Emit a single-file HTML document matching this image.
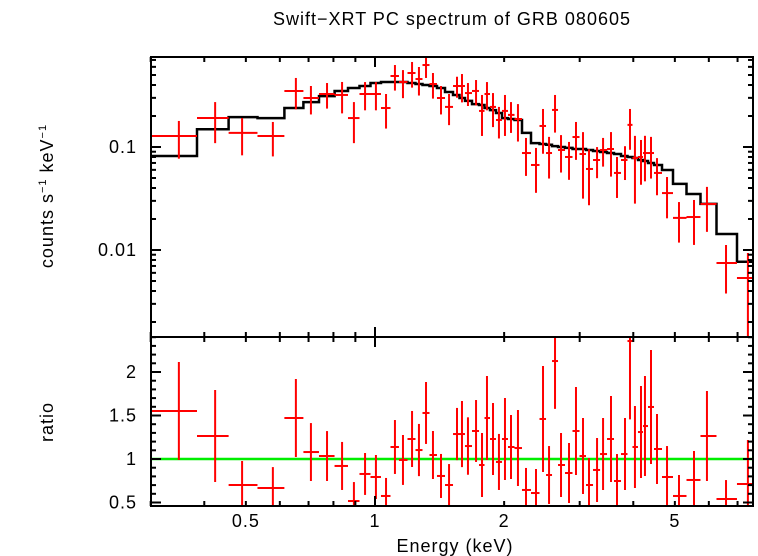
<!DOCTYPE html>
<html><head><meta charset="utf-8"><style>
html,body{margin:0;padding:0;background:#fff;}
svg{display:block;font-family:"Liberation Sans",sans-serif;}
text{letter-spacing:1px;}
</style></head><body>
<svg id="chart" width="758" height="556" viewBox="0 0 758 556" xmlns="http://www.w3.org/2000/svg">
<text x="452" y="25" font-size="18" text-anchor="middle">Swift−XRT PC spectrum of GRB 080605</text>
<text transform="translate(53,196) rotate(-90)" font-size="18" text-anchor="middle">counts s<tspan font-size="11" dy="-7">−1</tspan><tspan dy="7"> keV</tspan><tspan font-size="11" dy="-7">−1</tspan></text>
<text transform="translate(53,422) rotate(-90)" font-size="18" text-anchor="middle">ratio</text>
<text x="455" y="552" font-size="18" text-anchor="middle">Energy (keV)</text>
<g id="marks"></g>
<g id="axes"></g>
</svg>
<script>
const energies=[0.349,0.424,0.490,0.578,0.654,0.709,0.773,0.838,0.893,0.948,1.005,1.061,1.113,1.162,1.220,1.266,1.315,1.365,1.425,1.488,1.553,1.595,1.647,1.720,1.776,1.824,1.884,1.945,2.009,2.075,2.154,2.249,2.373,2.464,2.545,2.628,2.714,2.833,2.941,3.054,3.154,3.293,3.401,3.549,3.665,3.826,3.930,4.036,4.169,4.259,4.399,4.543,4.794,5.112,5.541,5.940,6.580,7.40];
const counts=[0.128,0.191,0.137,0.128,0.350,0.299,0.327,0.320,0.191,0.327,0.327,0.239,0.489,0.428,0.523,0.457,0.625,0.409,0.299,0.245,0.391,0.391,0.334,0.350,0.224,0.327,0.245,0.183,0.224,0.205,0.187,0.0874,0.0669,0.160,0.0874,0.229,0.0935,0.080,0.125,0.0855,0.0612,0.0748,0.0935,0.0956,0.056,0.0748,0.164,0.0782,0.080,0.0874,0.0874,0.056,0.0357,0.0205,0.0209,0.028,0.00748,0.00535];
const countErr=[0.051,0.082,0.054,0.047,0.118,0.092,0.091,0.108,0.082,0.10,0.10,0.088,0.136,0.13,0.146,0.141,0.157,0.114,0.092,0.082,0.09,0.12,0.084,0.097,0.096,0.10,0.089,0.062,0.096,0.068,0.074,0.035,0.031,0.074,0.038,0.091,0.037,0.032,0.05,0.054,0.034,0.025,0.029,0.044,0.024,0.027,0.07,0.05,0.037,0.041,0.038,0.022,0.0154,0.0087,0.0097,0.013,0.0037,0.004];
const model=[0.0818,0.149,0.195,0.191,0.239,0.273,0.312,0.350,0.374,0.391,0.418,0.428,0.428,0.428,0.418,0.409,0.400,0.391,0.374,0.342,0.320,0.299,0.280,0.261,0.256,0.239,0.228,0.214,0.191,0.187,0.183,0.137,0.109,0.107,0.105,0.102,0.100,0.098,0.0956,0.0956,0.0935,0.0914,0.0894,0.0874,0.0855,0.0818,0.080,0.0782,0.0748,0.0731,0.0699,0.0669,0.0598,0.0438,0.0350,0.028,0.0143,0.0077];
const ratio=[1.552,1.264,0.701,0.667,1.471,1.080,1.034,0.920,0.517,0.828,0.793,0.575,1.138,0.989,1.230,1.103,1.529,1.046,0.805,0.701,1.287,1.287,1.149,1.322,0.931,1.471,1.230,0.966,1.230,1.138,1.126,0.644,0.609,1.460,0.816,2.126,0.931,0.839,1.322,1.034,0.701,0.874,1.057,1.230,0.747,1.057,2.356,1.138,1.310,1.379,1.598,1.115,0.793,0.575,0.759,1.264,0.540,0.713];
const ratioErr=[0.563,0.529,0.276,0.24,0.448,0.333,0.287,0.276,0.218,0.241,0.253,0.207,0.31,0.287,0.322,0.3,0.356,0.276,0.253,0.241,0.3,0.38,0.33,0.356,0.368,0.483,0.414,0.322,0.471,0.368,0.437,0.253,0.276,0.609,0.333,0.55,0.368,0.345,0.506,0.437,0.31,0.368,0.414,0.494,0.31,0.414,0.9,0.471,0.529,0.575,0.655,0.402,0.356,0.241,0.333,0.517,0.218,0.506];
const xTicksLabeled=[0.5,1,2,5];
const topTicks=[0.1,0.01];
const ratioTicks=[0.5,1,1.5,2];

const NS='http://www.w3.org/2000/svg';
const L=151,R=753,T=57,MID=337,B=506;
const X=e=>375+429*Math.log10(e);
const YT=c=>147-103*Math.log10(c/0.1);
const YB=r=>459-87*(r-1);
const marks=document.getElementById('marks'),axes=document.getElementById('axes');
function el(tag,attrs,parent){const e=document.createElementNS(NS,tag);for(const k in attrs)e.setAttribute(k,attrs[k]);parent.appendChild(e);return e;}
const edges=[];
for(let i=0;i<=energies.length;i++){
  if(i===0)edges.push(0.3);
  else if(i===energies.length)edges.push(Math.min(7.6,energies[i-1]*energies[i-1]/Math.sqrt(energies[i-2]*energies[i-1])));
  else edges.push(Math.sqrt(energies[i-1]*energies[i]));
}
const gTop=el('g',{'clip-path':'url(#cpTop)'},marks);


const gBot=el('g',{'clip-path':'url(#cpBot)'},marks);


const defs=el('defs',{},marks);
const c1=el('clipPath',{id:'cpTop'},defs);el('rect',{x:L,y:T,width:R-L,height:MID-T},c1);
const c2=el('clipPath',{id:'cpBot'},defs);el('rect',{x:L,y:MID,width:R-L,height:B-MID},c2);
let d='';
for(let i=0;i<model.length;i++){
  const x0=X(edges[i]),x1=X(edges[i+1]),y=YT(model[i]);
  d+=(i===0?'M':'L')+x0.toFixed(1)+','+y.toFixed(1)+'L'+x1.toFixed(1)+','+y.toFixed(1);
}
const mp=el('path',{d:d,fill:'none',stroke:'#000','stroke-width':2.5},gTop);


const gl=el('line',{x1:L,x2:R,y1:YB(1),y2:YB(1),stroke:'#00ee00','stroke-width':2.5},gBot);


for(let i=0;i<energies.length;i++){
  const x0=X(edges[i]),x1=X(edges[i+1]),xc=X(energies[i]);
  const g=el('g',{stroke:'#ff0000','stroke-width':2},gTop);
  
  
  const y=YT(counts[i]),yh=YT(counts[i]+countErr[i]),yl=YT(Math.max(counts[i]-countErr[i],1e-4));
  el('line',{x1:x0,x2:x1,y1:y,y2:y},g);el('line',{x1:xc,x2:xc,y1:yh,y2:yl},g);
  const g2=el('g',{stroke:'#ff0000','stroke-width':2},gBot);
  
  
  const r=YB(ratio[i]);
  el('line',{x1:x0,x2:x1,y1:r,y2:r},g2);el('line',{x1:xc,x2:xc,y1:YB(ratio[i]+ratioErr[i]),y2:YB(ratio[i]-ratioErr[i])},g2);
}
[[T,MID],[MID,B]].forEach((p,k)=>{
  const f=el('rect',{x:L,y:p[0],width:R-L,height:p[1]-p[0],fill:'none',stroke:'#000','stroke-width':2},axes);
  
  
});
const xt=el('g',{stroke:'#000','stroke-width':2},axes);


for(let dec=-1;dec<=0;dec++)for(let m=1;m<=9;m++){
  const e=m*Math.pow(10,dec);if(e<0.3||e>7.6)continue;
  const x=X(e),len=(m===1)?10:5;
  [T,MID].forEach(y=>el('line',{x1:x,x2:x,y1:y,y2:y+len},xt));
  [MID,B].forEach(y=>el('line',{x1:x,x2:x,y1:y,y2:y-len},xt));
}
xTicksLabeled.forEach(v=>{const t=el('text',{x:X(v),y:527,'font-size':18,'text-anchor':'middle'},axes);t.textContent=String(v);
});
const yt=el('g',{stroke:'#000','stroke-width':2},axes);


for(let dec=-3;dec<=-1;dec++)for(let m=1;m<=9;m++){
  const c=m*Math.pow(10,dec),y=YT(c);if(y<T||y>MID)continue;
  const len=(m===1)?10:5;
  el('line',{x1:L,x2:L+len,y1:y,y2:y},yt);el('line',{x1:R,x2:R-len,y1:y,y2:y},yt);
}
topTicks.forEach(v=>{const t=el('text',{x:137,y:YT(v)+6,'font-size':18,'text-anchor':'end'},axes);t.textContent=String(v);
});
for(let k=5;k<=24;k++){
  const r=k/10,y=YB(r);if(y<MID||y>B)continue;
  const len=(k%5===0)?10:5;
  el('line',{x1:L,x2:L+len,y1:y,y2:y},yt);el('line',{x1:R,x2:R-len,y1:y,y2:y},yt);
}
ratioTicks.forEach(v=>{const t=el('text',{x:137,y:YB(v)+6,'font-size':18,'text-anchor':'end'},axes);t.textContent=String(v);
});
</script>
</body></html>
